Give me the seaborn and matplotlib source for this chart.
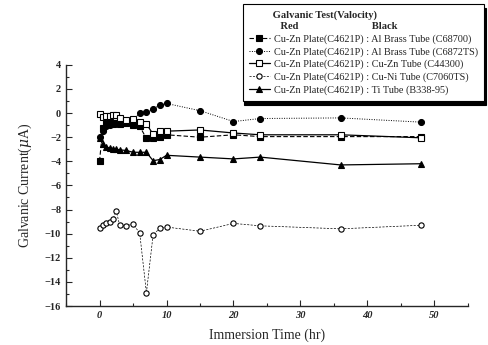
import matplotlib
matplotlib.use("Agg")
import matplotlib.pyplot as plt
import numpy as np
import pandas as pd
import seaborn as sns
from matplotlib.ticker import MultipleLocator

# immersion time (hr)
time_hr = [0, 0.5, 1, 1.5, 2, 2.5, 3, 4, 5, 6, 7, 8, 9, 10, 15, 20, 24, 36, 48]

# galvanic current (uA) per couple
al_brass_c68700 = [-4.0, -1.2, -0.7, -0.8, -0.9, -0.85, -0.9, -0.85, -1.0, -1.1,
                   -2.1, -2.1, -1.95, -1.8, -2.0, -1.8, -1.95, -1.95, -1.95]
al_brass_c6872ts = [-2.0, -1.5, -1.1, -1.0, -0.9, -0.85, -0.8, -0.7, -0.6, 0.0,
                    0.05, 0.35, 0.65, 0.8, 0.2, -0.7, -0.45, -0.4, -0.75]
cu_zn_c44300 = [-0.1, -0.3, -0.25, -0.2, -0.15, -0.15, -0.4, -0.55, -0.45, -0.7,
                -0.9, -1.75, -1.5, -1.5, -1.4, -1.65, -1.8, -1.8, -2.05]
cu_ni_c7060ts = [-9.5, -9.3, -9.1, -9.0, -8.8, -8.1, -9.3, -9.35, -9.2, -9.95,
                 -14.9, -10.1, -9.55, -9.45, -9.8, -9.15, -9.35, -9.6, -9.3]
ti_b338 = [-2.1, -2.6, -2.8, -2.9, -2.95, -3.0, -3.05, -3.1, -3.25, -3.25,
           -3.25, -3.95, -3.85, -3.5, -3.65, -3.8, -3.65, -4.3, -4.2]

labels = [
    "Cu-Zn Plate(C4621P) : Al Brass Tube (C68700)",
    "Cu-Zn Plate(C4621P) : Al Brass Tube (C6872TS)",
    "Cu-Zn Plate(C4621P) : Cu-Zn Tube (C44300)",
    "Cu-Zn Plate(C4621P) : Cu-Ni Tube (C7060TS)",
    "Cu-Zn Plate(C4621P) : Ti Tube (B338-95)",
]
series = [al_brass_c68700, al_brass_c6872ts, cu_zn_c44300, cu_ni_c7060ts, ti_b338]

# marker, facecolor, linestyle, linewidth, markersize
styles = [
    ("s", "black", (0, (4, 2)), 0.8, 4.2),
    ("o", "black", (0, (1, 1.5)), 0.7, 4.3),
    ("s", "white", "-", 0.9, 4.2),
    ("o", "white", (0, (3, 2)), 0.5, 3.8),
    ("^", "black", "-", 0.9, 4.8),
]

sns.set_style("ticks")
plt.rcParams["font.family"] = ["Liberation Serif", "DejaVu Serif"]
plt.rcParams["mathtext.fontset"] = "dejavuserif"

fig = plt.figure(figsize=(4.89, 3.45), dpi=100)
ax = fig.add_axes([0.135, 0.113, 0.822, 0.699])

for vals, lab, (mk, fc, ls, lw, ms) in zip(series, labels, styles):
    df = pd.DataFrame({"t": time_hr, "i": vals})
    sns.lineplot(data=df, x="t", y="i", ax=ax, color="black", marker=mk,
                 markerfacecolor=fc, markeredgecolor="black", markeredgewidth=0.8,
                 markersize=ms, linestyle=ls, linewidth=lw, label=lab, sort=False)

ax.set_xlim(-5, 55)
ax.set_ylim(-16, 4)
ax.xaxis.set_major_locator(MultipleLocator(10))
ax.xaxis.set_minor_locator(MultipleLocator(5))
ax.yaxis.set_major_locator(MultipleLocator(2))
ax.yaxis.set_minor_locator(MultipleLocator(1))
ax.tick_params(which="both", direction="in", labelsize=7.5, width=0.8)
ax.tick_params(which="major", length=4)
ax.tick_params(which="minor", length=2)
for t in ax.get_xticklabels():
    t.set_fontstyle("italic")
    t.set_fontweight("bold")
for t in ax.get_yticklabels():
    t.set_fontweight("bold")
sns.despine(ax=ax)
for sp in ax.spines.values():
    sp.set_linewidth(1.0)

ax.set_xlabel("Immersion Time (hr)", fontsize=10, labelpad=6)
ax.set_ylabel(r"Galvanic Current($\mu$A)", fontsize=10, labelpad=8)

leg = ax.legend(loc="upper left", bbox_to_anchor=(243 / 489, 1 - 4 / 345),
                bbox_transform=fig.transFigure, fontsize=7.4, frameon=True,
                fancybox=False, edgecolor="black", framealpha=1,
                handlelength=2.0, handletextpad=0.4, labelspacing=0.3,
                borderpad=0.6, borderaxespad=0,
                title="         Galvanic Test(Valocity)\n            Red                            Black",
                title_fontproperties={"size": 7.6, "weight": "bold"},
                alignment="left",
                shadow={"ox": 1, "oy": -3, "color": "black", "alpha": 1})
leg.get_title().set_linespacing(1.35)
leg.get_frame().set_linewidth(0.8)

fig.savefig("out.png", dpi=100)
